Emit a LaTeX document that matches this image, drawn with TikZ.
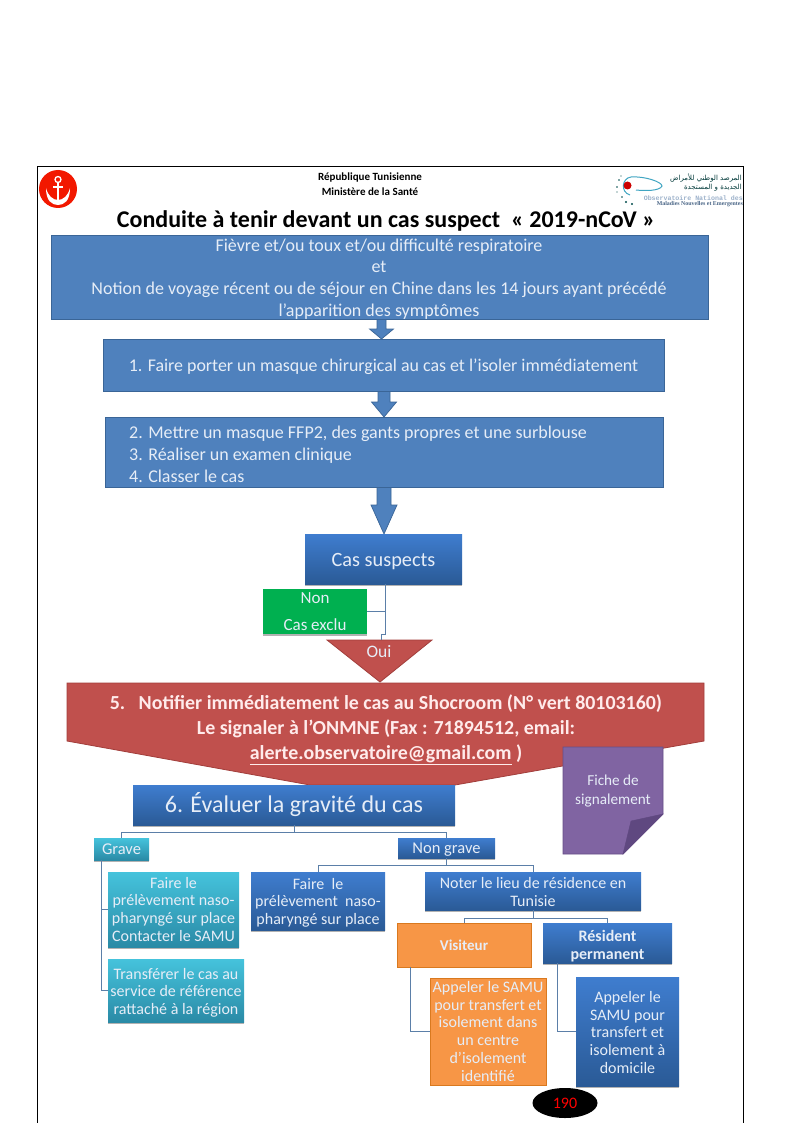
\documentclass[tikz,border=0pt]{standalone}
\usepackage{fontspec}
\setmainfont{Carlito}
\newfontfamily\arabicfont[Script=Arabic]{DejaVu Sans}
\newfontfamily\monof{Liberation Mono}
\newfontfamily\serf{Liberation Serif}
\TeXXeTstate=1
\usetikzlibrary{shapes.geometric,shadows,calc}
\definecolor{txt}{HTML}{E6EDF7}
\definecolor{flatblue}{HTML}{4F81BD}
\definecolor{edgeblue}{HTML}{3A6597}
\definecolor{gradtop}{HTML}{3F7DCF}
\definecolor{gradbot}{HTML}{2A5A96}
\definecolor{tealtop}{HTML}{45C3DC}
\definecolor{tealbot}{HTML}{2A8AA6}
\definecolor{orangef}{HTML}{F79646}
\definecolor{oranged}{HTML}{D9791F}
\definecolor{redf}{HTML}{C0504D}
\definecolor{redd}{HTML}{A23E3B}
\definecolor{purplef}{HTML}{8064A2}
\definecolor{purpled}{HTML}{5F4880}
\definecolor{linkc}{HTML}{5B7FA8}
\definecolor{greenf}{HTML}{00B050}
\newcommand{\fs}[1]{\fontsize{#1}{#1}\selectfont}
\newcommand{\dn}[2]{\raisebox{-#1pt}[\height][\depth]{#2}}
\tikzset{
  bx/.style={anchor=north west,inner sep=0pt,outer sep=0pt,align=center,text=txt},
  softshadow/.style={drop shadow={shadow xshift=0.4pt,shadow yshift=-1.6pt,opacity=.3,fill=black}},
  flatbox/.style={bx,fill=flatblue,draw=edgeblue,line width=0.9pt},
  gradbox/.style={bx,top color=gradtop,bottom color=gradbot,softshadow},
  tealbox/.style={bx,top color=tealtop,bottom color=tealbot,softshadow},
  greenbox/.style={bx,fill=greenf,softshadow},
  orangebox/.style={bx,fill=orangef,draw=oranged,line width=1pt},
  linkline/.style={draw=linkc,line width=0.9pt},
  blockshape/.style={fill=flatblue,draw=edgeblue,line width=0.7pt,line join=miter}
}
% x centre, y top, y neck, y tip, stem half, head half
\newcommand{\blockdown}[6]{\path[blockshape] (#1-#5,#2) -- (#1+#5,#2) -- (#1+#5,#3) -- (#1+#6,#3) -- (#1,#4) -- (#1-#6,#3) -- (#1-#5,#3) -- cycle;}
\begin{document}
\begin{tikzpicture}[x=1pt,y=-1pt]
\path[fill=white,use as bounding box] (0,0) rectangle (794,1123);
% frame
\draw[black,line width=1pt] (37,1123) -- (37,167) -- (743,167) -- (743,1123);
% left logo
\fill[red!80!orange!95!black] (58,189) circle (19);
\draw[white,line width=1.3pt] (58,179.5) circle (3);
\draw[white,line width=1.4pt] (58,182.5) -- (58,203);
\draw[white,line width=1.2pt] (53,187) -- (63,187);
\fill[white] (46,188) .. controls (46,201) and (52,205) .. (58,205) .. controls (64,205) and (70,201) .. (70,188) .. controls (68,196) and (63,200) .. (58,200) .. controls (53,200) and (48,196) .. (46,188) -- cycle;
% right logo
\draw[linkc!70!cyan,line width=1pt] (631,177) .. controls (622,178) and (620,192) .. (630,195);
\draw[linkc!70!cyan,line width=1pt] (631,177) .. controls (645,176) and (662,182) .. (662,186) .. controls (660,191) and (645,191) .. (636,190);
\fill[red!80!black] (627.5,185.5) circle (4);
\foreach \p/\r in {{(617,187)/.8},{(619,180)/.8},{(621,176)/.7},{(622,197)/.9},{(626,202)/1.1},{(632,204)/1.2},{(617,192)/.7}}{\fill[teal!60!black] \p circle (\r);}
\node[inner sep=0pt,anchor=east,text=teal!45!black] (ar1) at (742,178) {\fs{7}\arabicfont\beginR المرصد الوطني للأمراض\endR};
\node[inner sep=0pt,anchor=east,text=teal!45!black] (ar2) at (742,188) {\fs{7}\arabicfont\beginR الجديدة و المستجدة\endR};
\node[inner sep=0pt,anchor=east,text=linkc!60!white] (obs) at (743,198) {\fs{6.6}\monof\bfseries Observatoire National des};
\node[inner sep=0pt,anchor=east,text=linkc!80!black] (mal) at (743,204) {\fs{5.9}\serf\bfseries Maladies Nouvelles et Emergentes};
% header
\node[inner sep=0pt,align=center] (rep) at (370,178) {\fs{11}\bfseries République Tunisienne};
\node[inner sep=0pt,align=center] (min) at (370,192) {\fs{11}\bfseries Ministère de la Santé};
\node[inner sep=0pt] (title) at (386,221) {\fs{24}\bfseries Conduite à tenir devant un cas suspect\ \ « 2019-nCoV »};
% block arrows
\blockdown{381.5}{317}{329}{339}{4.5}{12}
\blockdown{384}{390}{402}{417}{6}{12.5}
\blockdown{384}{486}{505}{534}{7}{13}
% top boxes
\node[flatbox,minimum width=657,minimum height=84,text height=0pt] (b1) at (51,235) {};
\node[text=txt,inner sep=0pt,align=center] (b1t) at (379,280) {\fs{18}\begin{tabular}{@{}c@{}}Fièvre et/ou toux et/ou difficulté respiratoire\\[3.7pt] et\\[3.7pt] Notion de voyage récent ou de séjour en Chine dans les 14 jours ayant précédé\\[3.7pt] l’apparition des symptômes\end{tabular}};
\node[flatbox,minimum width=561,minimum height=52] (b2) at (103,339) {\dn{2}{\fs{17.9}1. Faire porter un masque chirurgical au cas et l’isoler immédiatement}};
\node[flatbox,minimum width=558,minimum height=70] (b3) at (105,417) {};
\node[anchor=west,inner sep=0pt,text=txt,align=left] (b3t) at (129,457) {\fs{18}\begin{tabular}{@{}l@{}}2. Mettre un masque FFP2, des gants propres et une surblouse\\[4pt] 3. Réaliser un examen clinique\\[4pt] 4. Classer le cas\end{tabular}};
% cas suspects
\node[gradbox,minimum width=157,minimum height=50] (cas) at (305,534) {\dn{3}{\fs{20.3}Cas suspects}};
\node[greenbox,minimum width=104,minimum height=45] (non) at (263,589) {\dn{2}{\fs{17}\begin{tabular}{@{}c@{}}Non\\[10pt] Cas exclu\end{tabular}}};
% red shapes
\path[fill=redf,draw=redd,line width=0.8pt] (327,640) -- (432,640) -- (380,682) -- cycle;
\node[inner sep=0pt,text=txt] (oui) at (379,652) {\fs{17.5}Oui};
\path[fill=redf,draw=redd,line width=0.8pt] (67,683) -- (704,683) -- (704,741) -- (455,785) -- (310,785) -- (67,741) -- cycle;
\node[inner sep=0pt,text=white!92!red,align=center] (alert) at (386,730) {\fs{19.9}\bfseries\begin{tabular}{@{}c@{}}5.\ \ \ Notifier immédiatement le cas au Shocroom (N° vert 80103160)\\[4.3pt] Le signaler à l’ONMNE (Fax : 71894512, email:\\[4.3pt] \underline{alerte.observatoire@gmail.com} )\end{tabular}};
\draw[linkc,line width=0.9pt] (cas.south -| 385,0) -- (385,634) -- (381,634) -- (381,640);
\draw[linkc,line width=0.9pt] (385,611) -- (non.east |- 385,611);
% purple note
\path[fill=purplef,draw=purpled!80!purplef,line width=0.8pt] (563,747) -- (663,747) -- (663,814) -- (623,854) -- (563,854) -- cycle;
\path[fill=purpled,draw=purpled,line width=0.4pt] (663,814) -- (631,821) -- (623,854) -- cycle;
\node[inner sep=0pt,text=txt,align=center] (fiche) at (613,792) {\fs{15.2}\begin{tabular}{@{}c@{}}Fiche de\\[3.5pt] signalement\end{tabular}};
% evaluation tree
\node[gradbox,minimum width=322,minimum height=40] (eval) at (133,785) {\fs{24}6. Évaluer la gravité du cas};
\node[tealbox,minimum width=55,minimum height=22] (grave) at (94,838) {\fs{16.5}Grave};
\node[gradbox,minimum width=97,minimum height=20] (ng) at (398,838) {\dn{2}{\fs{16.5}Non grave}};
\node[tealbox,minimum width=131,minimum height=75] (t1) at (108,872) {\dn{2}{\fs{16}\begin{tabular}{@{}c@{}}Faire le\\[1.7pt] prélèvement\ naso-\\[1.7pt] pharyngé sur place\\[1.7pt] Contacter le SAMU\end{tabular}}};
\node[tealbox,minimum width=136,minimum height=63] (t2) at (108,959) {\dn{3}{\fs{16}\begin{tabular}{@{}c@{}}Transférer le cas au\\[1.7pt] service de référence\\[1.7pt] rattaché à la région\end{tabular}}};
\node[gradbox,minimum width=134,minimum height=58] (faire) at (251,872) {\dn{2.5}{\fs{16}\begin{tabular}{@{}c@{}}Faire\ \ le\\[1.7pt] prélèvement\ \ naso-\\[1.7pt] pharyngé sur place\end{tabular}}};
\node[gradbox,minimum width=216,minimum height=38] (noter) at (425,872) {\dn{3}{\fs{16}\begin{tabular}{@{}c@{}}Noter le lieu de résidence en\\[1.7pt] Tunisie\end{tabular}}};
\node[orangebox,minimum width=134,minimum height=44] (vis) at (397,923) {\fs{15}\bfseries Visiteur};
\node[gradbox,minimum width=129,minimum height=40] (res) at (543,923) {\dn{4}{\fs{16}\bfseries\begin{tabular}{@{}c@{}}Résident\\[1.7pt] permanent\end{tabular}}};
\node[orangebox,minimum width=116,minimum height=107] (o2) at (430,978) {\dn{2}{\fs{16}\begin{tabular}{@{}c@{}}Appeler le SAMU\\[1.7pt] pour transfert et\\[1.7pt] isolement dans\\[1.7pt] un centre\\[1.7pt] d’isolement\\[1.7pt] identifié\end{tabular}}};
\node[gradbox,minimum width=103,minimum height=109] (b4) at (576,977) {\dn{3}{\fs{16}\begin{tabular}{@{}c@{}}Appeler le\\[1.7pt] SAMU pour\\[1.7pt] transfert et\\[1.7pt] isolement à\\[1.7pt] domicile\end{tabular}}};
% connectors
\draw[linkline] (eval.south) -- ++(0,7) -| (grave.north);
\draw[linkline] (eval.south) -- ++(0,7) -| (ng.north);
\draw[linkline] (ng.south) -- ++(0,7) -| (faire.north);
\draw[linkline] (ng.south) -- ++(0,7) -| (noter.north);
\draw[linkline] (noter.south) -- ++(0,8) -| (vis.north);
\draw[linkline] (noter.south) -- ++(0,8) -| (res.north);
\draw[linkline] ($(grave.south west)+(7,0)$) |- (t1.west);
\draw[linkline] ($(grave.south west)+(7,0)$) |- (t2.west);
\draw[linkline] ($(vis.south west)+(13,0)$) |- (o2.west);
\draw[linkline] ($(res.south west)+(14,0)$) |- (b4.west);
% page number
\node[ellipse,fill=black,minimum width=65,minimum height=30,inner sep=0pt,text=red] (page) at (565,1103) {\fs{16}190};
\end{tikzpicture}
\end{document}
